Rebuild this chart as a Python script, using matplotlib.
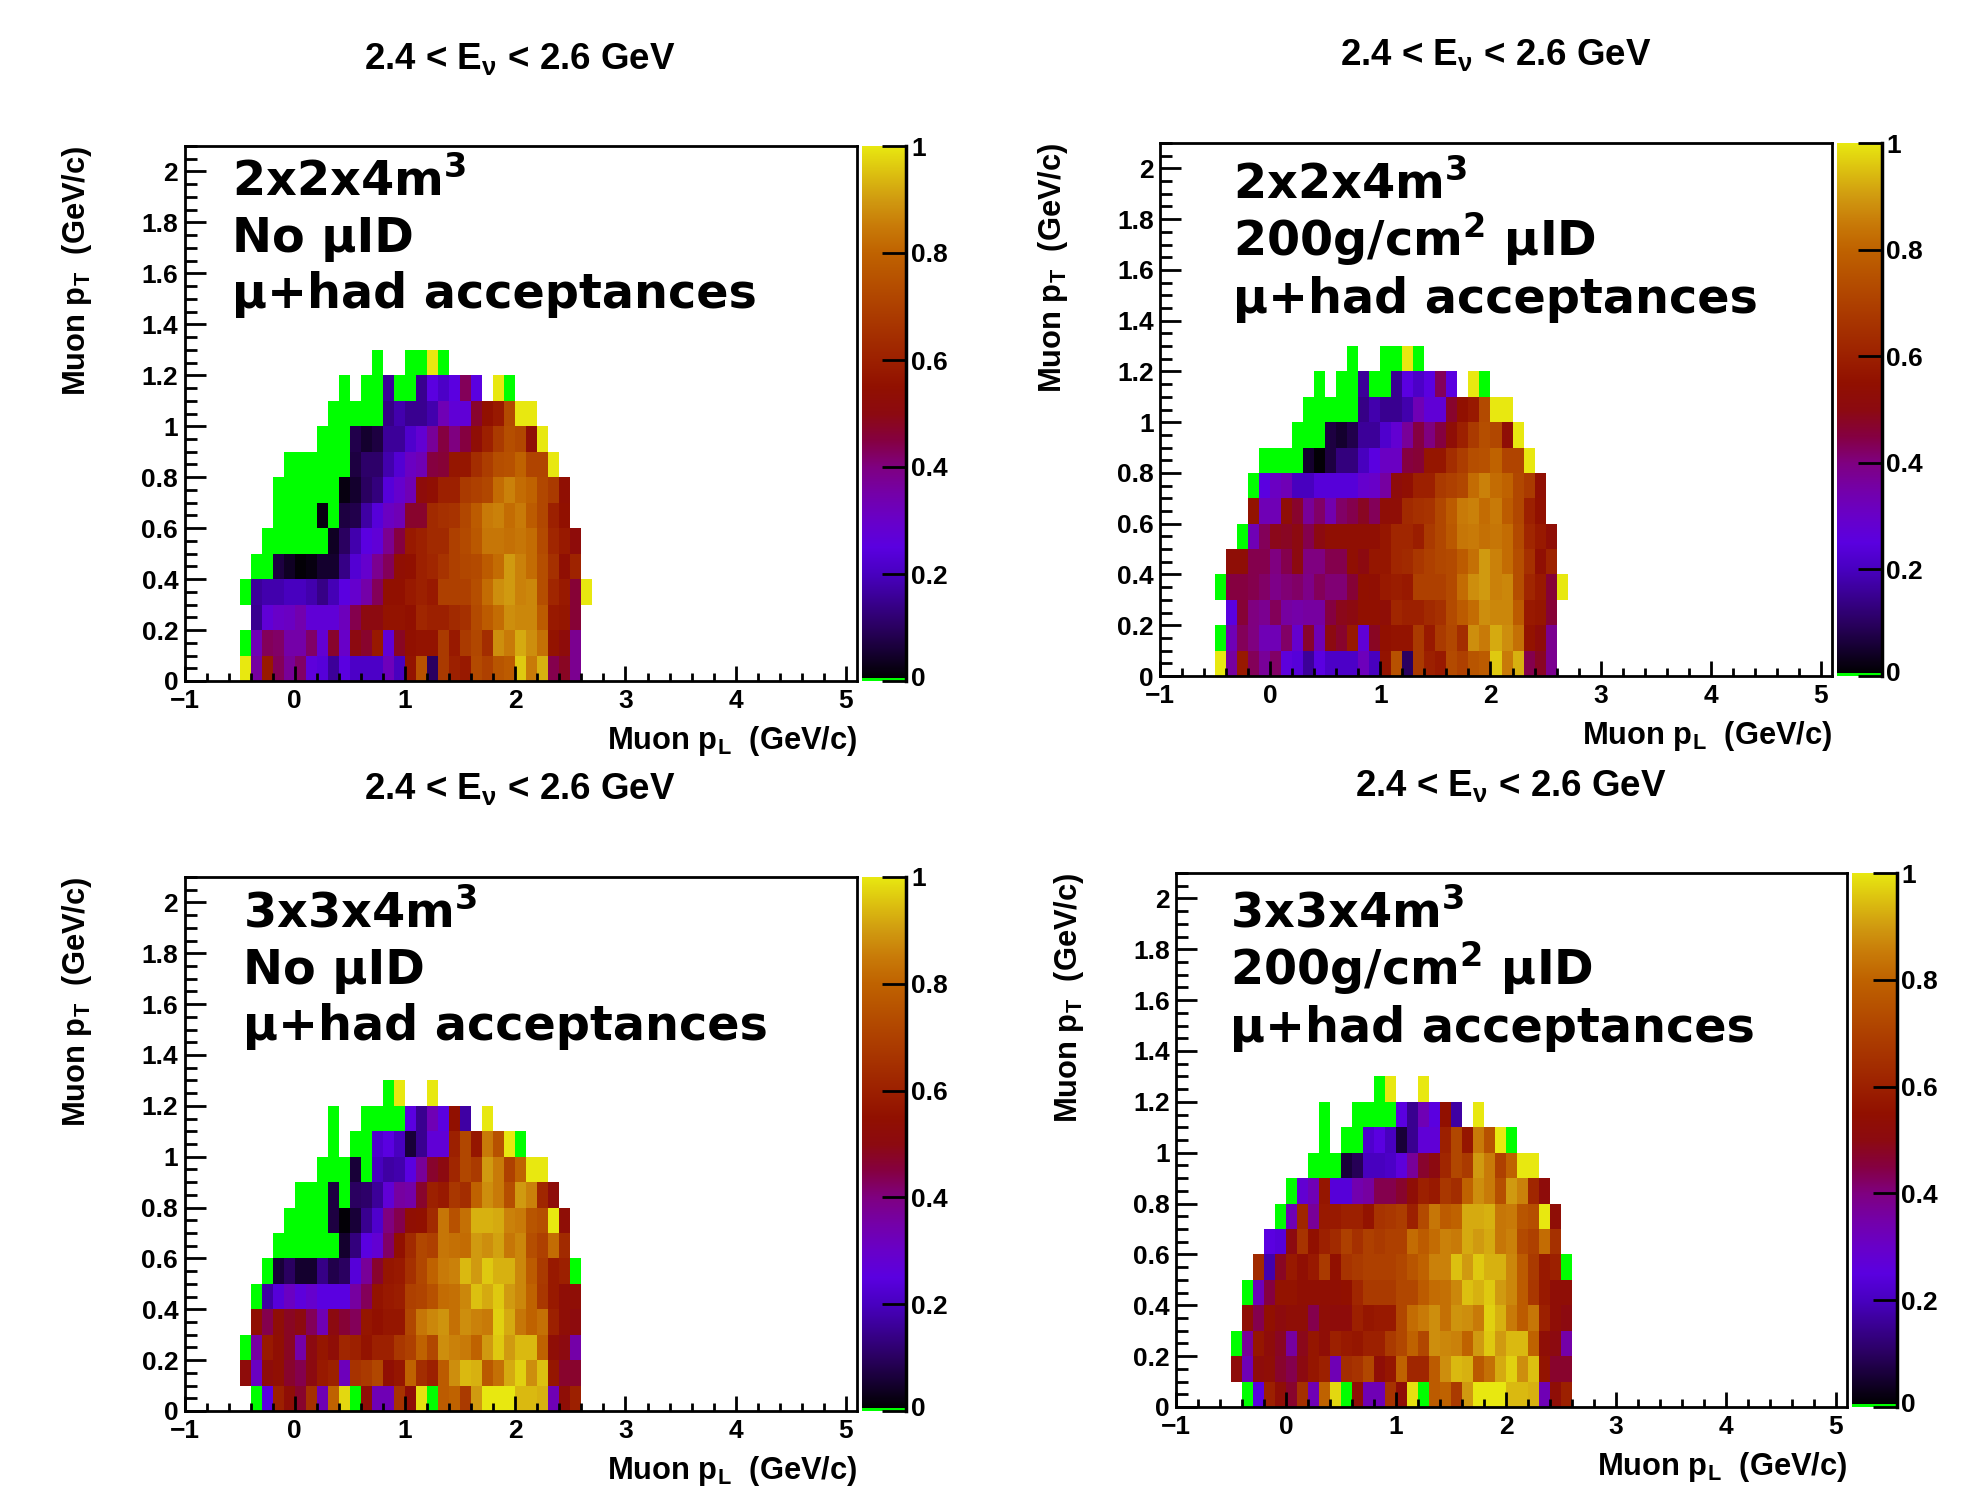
import numpy as np
import matplotlib
matplotlib.use('Agg')
import matplotlib.pyplot as plt
from matplotlib.colors import LinearSegmentedColormap
from matplotlib.ticker import MultipleLocator, FixedLocator, FuncFormatter
from matplotlib.transforms import Bbox, ScaledTranslation

W, H = 1981, 1494
_ = np.nan
NCOL = 32


def pad(start, vals):
    return [_] * start + vals + [_] * (NCOL - start - len(vals))


# acceptance in percent, rows from pT 1.2-1.3 down to 0-0.1, 0 is the green bin
acc_2x2_no_id = [
    pad(12, [0, _, _, 0, 0, 100, 0]),
    pad(9, [0, _, 0, 0, 16, 0, 0, 15, 25, 21, 25, 43, 25, _, 100, 0]),
    pad(8, [0, 0, 0, 0, 0, 14, 18, 15, 15, 18, 33, 27, 27, 47, 55, 58, 73, 100, 100]),
    pad(7, [0, 0, 0, 8, 5, 7, 16, 16, 22, 28, 37, 45, 40, 45, 53, 60, 68, 74, 72, 53, 100]),
    pad(4, [0, 0, 0, 0, 0, 0, 7, 11, 11, 18, 23, 31, 33, 45, 46, 57, 57, 64, 69, 74, 75, 80, 71, 71, 100]),
    pad(3, [0, 0, 0, 0, 0, 0, 2, 5, 10, 13, 24, 29, 33, 52, 54, 60, 60, 68, 70, 72, 82, 86, 82, 80, 72, 68, 54]),
    pad(3, [0, 0, 0, 0, 2, 0, 7, 8, 17, 24, 31, 33, 47, 47, 63, 65, 66, 72, 78, 85, 86, 82, 85, 78, 72, 60, 55]),
    pad(2, [0, 0, 0, 0, 0, 0, 4, 10, 18, 25, 27, 38, 45, 58, 60, 63, 63, 70, 73, 77, 84, 84, 83, 84, 82, 73, 62, 58, 52]),
    pad(1, [0, 0, 7, 4, 1, 2, 5, 5, 14, 23, 29, 38, 43, 54, 55, 60, 62, 66, 70, 72, 73, 78, 82, 90, 86, 82, 74, 65, 54, 61]),
    pad(0, [0, 16, 18, 18, 20, 20, 18, 14, 19, 25, 29, 35, 43, 55, 55, 58, 60, 58, 70, 70, 70, 74, 82, 88, 90, 86, 87, 74, 62, 58, 46, 100]),
    pad(1, [15, 27, 30, 31, 34, 27, 27, 27, 32, 44, 50, 50, 56, 56, 55, 62, 60, 60, 63, 65, 73, 78, 82, 88, 87, 87, 78, 58, 57, 46]),
    pad(0, [0, 33, 43, 42, 35, 35, 42, 28, 47, 30, 50, 47, 58, 27, 48, 55, 56, 56, 68, 58, 68, 72, 64, 88, 85, 92, 88, 83, 56, 52, 38]),
    pad(0, [100, 36, 58, 43, 37, 42, 26, 24, 16, 25, 21, 21, 21, 32, 20, 56, 75, 10, 68, 60, 58, 73, 70, 76, 78, 96, 85, 93, 44, 48, 38]),
]

acc_2x2_id = [
    pad(12, [0, _, _, 0, 0, 100, 0]),
    pad(9, [0, _, 0, 0, 16, 0, 0, 15, 25, 21, 25, 43, 25, _, 100, 0]),
    pad(8, [0, 0, 0, 0, 0, 14, 18, 15, 15, 18, 33, 27, 27, 47, 55, 58, 73, 100, 100]),
    pad(7, [0, 0, 0, 7, 5, 8, 16, 16, 22, 28, 37, 45, 40, 45, 53, 60, 68, 74, 72, 53, 100]),
    pad(4, [0, 0, 0, 0, 5, 1, 7, 13, 13, 20, 25, 31, 31, 45, 46, 57, 57, 64, 69, 74, 75, 80, 71, 71, 100]),
    pad(3, [0, 25, 31, 33, 20, 20, 24, 24, 24, 24, 29, 30, 36, 52, 54, 60, 60, 68, 70, 72, 82, 86, 82, 80, 72, 68, 54]),
    pad(3, [56, 33, 33, 53, 47, 37, 42, 34, 42, 44, 48, 43, 53, 53, 63, 65, 66, 72, 78, 85, 86, 82, 85, 78, 72, 60, 55]),
    pad(2, [0, 33, 43, 49, 48, 50, 44, 50, 54, 54, 54, 54, 54, 57, 62, 62, 59, 68, 72, 77, 84, 85, 83, 84, 82, 73, 62, 58, 53]),
    pad(1, [53, 53, 44, 44, 40, 44, 50, 40, 40, 44, 44, 54, 50, 57, 57, 62, 63, 67, 70, 72, 73, 78, 83, 90, 86, 82, 74, 65, 54, 61]),
    pad(0, [0, 45, 45, 44, 42, 39, 41, 42, 39, 43, 41, 41, 46, 55, 54, 58, 59, 58, 70, 70, 70, 73, 82, 88, 90, 86, 87, 74, 62, 58, 46, 100]),
    pad(1, [25, 46, 40, 38, 43, 36, 35, 36, 36, 45, 49, 50, 55, 55, 53, 62, 60, 60, 63, 65, 73, 78, 82, 88, 87, 87, 78, 58, 57, 46]),
    pad(0, [0, 33, 43, 40, 33, 33, 42, 29, 47, 33, 50, 47, 58, 27, 48, 55, 56, 56, 68, 58, 68, 72, 64, 88, 85, 92, 88, 83, 56, 52, 38]),
    pad(0, [100, 36, 58, 43, 37, 42, 26, 24, 16, 25, 21, 21, 21, 32, 20, 56, 75, 10, 68, 60, 58, 73, 70, 76, 78, 96, 85, 93, 44, 48, 38]),
]

acc_3x3_no_id = [
    pad(13, [0, 100, _, _, 100]),
    pad(8, [0, _, _, 0, 0, 0, 0, 25, 15, 33, 25, 55, 17, _, 100]),
    pad(8, [0, _, 0, 0, 22, 25, 20, 6, 15, 27, 27, 60, 72, 57, 85, 75, 100, 0]),
    pad(7, [0, 0, 0, 6, 0, 20, 17, 18, 25, 37, 47, 50, 62, 72, 68, 90, 85, 70, 80, 100, 100]),
    pad(5, [0, 0, 0, 7, 0, 10, 11, 16, 27, 36, 35, 47, 60, 58, 67, 64, 80, 88, 85, 74, 90, 86, 62, 52]),
    pad(4, [0, 0, 0, 0, 7, 1, 6, 15, 22, 40, 44, 54, 55, 63, 84, 75, 83, 93, 93, 92, 86, 85, 76, 74, 100, 53]),
    pad(3, [0, 0, 0, 0, 0, 0, 5, 13, 25, 28, 42, 55, 63, 72, 70, 84, 83, 82, 90, 88, 91, 84, 87, 74, 70, 82, 63]),
    pad(2, [0, 6, 10, 5, 5, 14, 8, 10, 24, 37, 47, 57, 58, 65, 72, 80, 85, 86, 94, 90, 96, 93, 93, 87, 78, 68, 58, 60, 0]),
    pad(1, [0, 17, 24, 31, 26, 29, 25, 25, 25, 36, 43, 56, 58, 59, 70, 71, 75, 82, 83, 87, 95, 92, 96, 90, 87, 80, 67, 58, 53, 53]),
    pad(1, [54, 44, 53, 48, 50, 43, 33, 50, 46, 43, 57, 55, 57, 57, 72, 84, 87, 89, 83, 88, 86, 85, 97, 92, 84, 80, 83, 60, 53, 51]),
    pad(0, [0, 36, 58, 54, 48, 35, 50, 57, 53, 62, 60, 56, 60, 60, 67, 70, 80, 72, 88, 86, 85, 80, 90, 96, 90, 94, 94, 80, 53, 50, 35]),
    pad(0, [52, 31, 52, 54, 47, 44, 50, 58, 60, 32, 66, 68, 72, 54, 57, 80, 64, 60, 78, 88, 94, 93, 77, 83, 92, 97, 88, 95, 57, 47, 47]),
    pad(1, [0, 25, 60, 53, 47, 65, 33, 80, 98, 0, 53, 33, 33, 66, 53, 99, 0, 78, 80, 68, 90, 100, 100, 100, 94, 94, 93, 33, 53, 60]),
]

acc_3x3_id = [
    pad(13, [0, 100, _, _, 100]),
    pad(8, [0, _, _, 0, 0, 0, 0, 25, 15, 33, 25, 55, 17, _, 100]),
    pad(8, [0, _, 0, 0, 22, 25, 20, 6, 15, 27, 27, 60, 72, 57, 85, 75, 100, 0]),
    pad(7, [0, 0, 0, 6, 9, 20, 20, 21, 26, 37, 47, 50, 62, 72, 68, 90, 85, 70, 80, 100, 100]),
    pad(5, [0, 28, 33, 57, 24, 24, 34, 36, 44, 44, 47, 53, 60, 58, 67, 64, 80, 88, 85, 74, 90, 86, 62, 52]),
    pad(4, [0, 33, 62, 37, 58, 58, 60, 60, 56, 66, 67, 69, 60, 73, 84, 78, 80, 92, 92, 93, 84, 85, 76, 74, 100, 53]),
    pad(3, [25, 24, 50, 66, 55, 60, 63, 70, 65, 70, 68, 70, 70, 82, 78, 82, 86, 85, 92, 90, 92, 84, 86, 73, 70, 82, 65]),
    pad(2, [63, 18, 48, 58, 54, 58, 68, 55, 66, 68, 70, 70, 70, 72, 76, 80, 86, 86, 95, 90, 96, 93, 93, 87, 78, 68, 58, 60, 0]),
    pad(1, [0, 32, 45, 56, 56, 54, 54, 54, 54, 55, 62, 68, 68, 68, 72, 72, 78, 82, 83, 87, 95, 93, 96, 90, 87, 78, 67, 58, 53, 53]),
    pad(1, [53, 44, 55, 51, 53, 53, 44, 53, 52, 52, 60, 57, 58, 58, 72, 82, 85, 88, 83, 89, 88, 85, 97, 93, 85, 78, 84, 60, 53, 50]),
    pad(0, [0, 37, 57, 52, 48, 36, 49, 57, 53, 60, 58, 57, 60, 60, 68, 72, 80, 72, 88, 87, 86, 80, 90, 96, 90, 94, 94, 80, 53, 50, 35]),
    pad(0, [52, 33, 52, 53, 47, 44, 50, 57, 60, 33, 64, 66, 72, 53, 57, 80, 62, 62, 78, 88, 94, 93, 77, 83, 92, 97, 88, 95, 56, 47, 47]),
    pad(1, [0, 25, 60, 53, 47, 65, 33, 80, 98, 0, 53, 33, 33, 66, 53, 99, 0, 78, 80, 68, 90, 100, 100, 100, 94, 94, 93, 33, 53, 60]),
]

pt_edges = np.arange(0, 1.31, 0.1)
pl_edges = np.linspace(-0.5, 2.7, NCOL + 1)

xticks = [-1, 0, 1, 2, 3, 4, 5]
yticks = [0, 0.2, 0.4, 0.6, 0.8, 1, 1.2, 1.4, 1.6, 1.8, 2]
cbar_ticks = [0, 0.2, 0.4, 0.6, 0.8, 1]

title = r'2.4 < E$_{\nu}$ < 2.6 GeV'
xlabel = r'Muon p$_{\mathrm{L}}\ $ (GeV/c)'
ylabel = r'Muon p$_{\mathrm{T}}\ $ (GeV/c)'

# (data, frame l r t b, title center x y, notes x, note baselines y, note lines, cut xlabel)
panels = [
    (acc_2x2_no_id, (184.5, 857, 146, 681), (520, 59), 232, (196, 252, 308),
     ['2x2x4m$^{\\mathsf{3}}$', 'No µID', 'µ+had acceptances'], True),
    (acc_2x2_id, (1160, 1832, 143, 676), (1496, 55), 1233, (199, 256, 313),
     ['2x2x4m$^{\\mathsf{3}}$', '200g/cm$^{\\mathsf{2}}$ µID', 'µ+had acceptances'], False),
    (acc_3x3_no_id, (184.5, 857, 877, 1411), (520, 789), 243, (927, 984, 1040),
     ['3x3x4m$^{\\mathsf{3}}$', 'No µID', 'µ+had acceptances'], True),
    (acc_3x3_id, (1176, 1847, 873, 1407), (1511, 786), 1230, (927, 985, 1042),
     ['3x3x4m$^{\\mathsf{3}}$', '200g/cm$^{\\mathsf{2}}$ µID', 'µ+had acceptances'], False),
]

plt.rcParams['font.family'] = 'Liberation Sans'
plt.rcParams['font.weight'] = 'bold'
plt.rcParams['mathtext.fontset'] = 'custom'
plt.rcParams['mathtext.rm'] = 'Liberation Sans'
plt.rcParams['mathtext.it'] = 'Liberation Sans'
plt.rcParams['mathtext.sf'] = 'DejaVu Sans'
plt.rcParams['mathtext.default'] = 'regular'

green = '#00ff00'
cmap = LinearSegmentedColormap.from_list('acc', [
    (0, green), (0.004, green), (0.004, '#000000'), (0.1, '#2a0060'), (0.2, '#4800c0'),
    (0.25, '#5a00e0'), (0.3, '#6800c8'), (0.35, '#7400a8'), (0.4, '#7f0080'),
    (0.45, '#850040'), (0.5, '#8c0a10'), (0.55, '#911000'), (0.6, '#9c2000'),
    (0.7, '#ae4000'), (0.8, '#bf6200'), (0.85, '#c87a08'), (0.9, '#d09a10'),
    (0.95, '#dcc010'), (1, '#e8e810')], N=1024)


def fmt(v, pos=None):
    return '%g' % v if v >= 0 else '\u22121'


fig = plt.figure(figsize=(W / 100, H / 100), dpi=100)

for data, (l, r, t, b), (tx, ty), nx, nys, notes, cut in panels:
    ax = fig.add_axes([l / W, 1 - b / H, (r - l) / W, (b - t) / H])
    z = np.array(data, dtype=float)[::-1] / 100
    mesh = ax.pcolormesh(pl_edges, pt_edges, np.ma.masked_invalid(z), cmap=cmap, vmin=0, vmax=1, antialiased=False)
    ax.set_xlim(-1, 5.1)
    ax.set_ylim(0, 2.1)
    ax.xaxis.set_major_locator(FixedLocator(xticks))
    ax.xaxis.set_minor_locator(MultipleLocator(0.2))
    ax.yaxis.set_major_locator(FixedLocator(yticks))
    ax.yaxis.set_minor_locator(MultipleLocator(0.05))
    ax.xaxis.set_major_formatter(FuncFormatter(fmt))
    ax.yaxis.set_major_formatter(FuncFormatter(fmt))
    ax.tick_params(which='major', axis='x', direction='in', length=11, width=2, labelsize=19, pad=6)
    ax.tick_params(which='minor', axis='x', direction='in', length=5.5, width=2)
    ax.tick_params(which='major', axis='y', direction='in', length=15, width=2, labelsize=19, pad=4.5)
    ax.tick_params(which='minor', axis='y', direction='in', length=8.5, width=2)
    for s in ax.spines.values():
        s.set_linewidth(2)
    ax.set_axisbelow(False)

    cax = fig.add_axes([(r + 5.5) / W, 1 - b / H, 44 / W, (b - t) / H])
    cb = fig.colorbar(mesh, cax=cax)
    cb.outline.set_visible(False)
    cb.set_ticks(cbar_ticks)
    cb.ax.yaxis.set_major_formatter(FuncFormatter(fmt))
    cb.ax.minorticks_off()
    cb.ax.tick_params(direction='in', length=17, width=2, labelsize=19, pad=3.5)
    cb.ax.axvline(1, color='k', lw=2.5, clip_on=False)
    zero_label = cb.ax.get_yticklabels()[0]
    zero_label.set_transform(zero_label.get_transform() + ScaledTranslation(0, 0.05, fig.dpi_scale_trans))

    fig.text(tx / W, 1 - ty / H, title, ha='center', va='center', fontsize=26.5)
    xlab = fig.text(r / W, 1 - (b + 60) / H, xlabel, ha='right', va='center', fontsize=22.2)
    if cut:
        # the bottom of the subscript is cut off in the two left panels
        xlab.set_clip_box(Bbox([[0, H - (b + 82)], [W, H]]))
        xlab.set_clip_on(True)
    fig.text((l - 107) / W, 1 - t / H, ylabel, ha='center', va='top', rotation=90, fontsize=22.2)
    for ny, note in zip(nys, notes):
        fig.text(nx / W, 1 - ny / H, note, ha='left', va='baseline', fontsize=34.4,
                 family='DejaVu Sans', weight='bold')

fig.savefig('out.png', dpi=100, facecolor='white')
